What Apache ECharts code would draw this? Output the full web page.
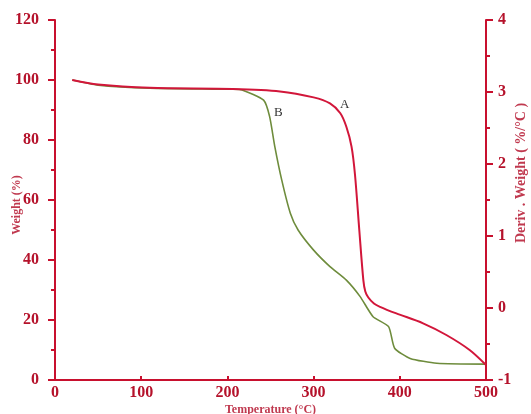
<!DOCTYPE html>
<html><head><meta charset="utf-8">
<script src="https://cdn.jsdelivr.net/npm/echarts@6/dist/echarts.min.js"></script>
<style>html,body{margin:0;padding:0;background:#fff}#c{width:531px;height:414px}</style>
</head><body><div id="c"></div>
<script>
var tempA = [20, 50, 110, 206, 261, 300, 319, 331, 338, 344, 348, 353, 357.7, 360, 363.5, 370, 377, 396, 427, 454, 481, 500];
var weightA = [100, 98.5, 97.4, 97, 96.2, 94.2, 92.2, 88.9, 84.4, 77.8, 68.5, 50, 33.3, 29.5, 27.5, 25.5, 24.4, 22.2, 18.9, 15, 10, 5];
var tempB = [20, 50, 110, 206, 217, 242, 249, 255, 263, 273, 282, 300, 319, 338, 354, 369, 387, 394, 412, 443, 500];
var weightB = [100, 98.3, 97.3, 96.9, 96.7, 93.3, 87.8, 77.8, 66.7, 55.6, 50, 43.3, 37.8, 33.3, 27.8, 21.1, 17.8, 10.6, 7.2, 5.6, 5.3];
var xTicks = [0, 100, 200, 300, 400, 500];
var leftTicks = [0, 20, 40, 60, 80, 100, 120];
var rightTicks = [-1, 0, 1, 2, 3, 4];
var labelA = {name: 'A', x: 336, y: 91.7};
var labelB = {name: 'B', x: 259, y: 89};

function pairs(xs, ys) { return xs.map(function (x, i) { return [x, ys[i]]; }); }

var RED = '#c8102e';
var tickFont = {color: '#b5122b', fontFamily: 'Liberation Serif', fontWeight: 'bold', fontSize: 16};
var nameFont = {color: '#c0394f', fontFamily: 'Liberation Serif', fontWeight: 'bold', fontSize: 12};

var chart = echarts.init(document.getElementById('c'));
chart.setOption({
  animation: false,
  backgroundColor: '#fff',
  grid: {left: 55, right: 45, top: 20, bottom: 34, containLabel: false, outerBoundsMode: 'none'},
  xAxis: {
    type: 'value', min: xTicks[0], max: xTicks[xTicks.length - 1], interval: 100,
    name: 'Temperature (°C)', nameLocation: 'middle', nameGap: 24, nameMoveOverlap: false, nameTextStyle: nameFont,
    axisLine: {lineStyle: {color: RED, width: 2}},
    axisTick: {inside: true, length: 4, lineStyle: {color: RED, width: 2}},
    axisLabel: Object.assign({margin: 5}, tickFont),
    splitLine: {show: false}
  },
  yAxis: [{
    type: 'value', min: leftTicks[0], max: leftTicks[leftTicks.length - 1], interval: 20, position: 'left',
    name: 'Weight (%)', nameLocation: 'middle', nameGap: 32, nameRotate: 90, nameMoveOverlap: false,
    nameTextStyle: Object.assign({}, nameFont, {padding: [0, 10, 0, 0]}),
    axisLine: {show: true, lineStyle: {color: RED, width: 2}},
    axisTick: {show: true, length: 7, lineStyle: {color: RED, width: 2}},
    minorTick: {show: true, splitNumber: 2, length: 4, lineStyle: {color: RED, width: 2}},
    axisLabel: Object.assign({margin: 16}, tickFont),
    splitLine: {show: false}
  }, {
    type: 'value', min: rightTicks[0], max: rightTicks[rightTicks.length - 1], interval: 1, position: 'right',
    name: 'Deriv . Weight ( %/°C )', nameLocation: 'middle', nameGap: 28, nameRotate: 90, nameMoveOverlap: false,
    nameTextStyle: Object.assign({}, nameFont, {fontSize: 14, padding: [0, 0, 0, 54]}),
    axisLine: {show: true, lineStyle: {color: RED, width: 2}},
    axisTick: {show: true, length: 7, lineStyle: {color: RED, width: 2}},
    minorTick: {show: true, splitNumber: 2, length: 4, lineStyle: {color: RED, width: 2}},
    axisLabel: Object.assign({margin: 12}, tickFont),
    splitLine: {show: false}
  }],
  series: [{
    name: 'B', type: 'line', data: pairs(tempB, weightB), smooth: 0.2, showSymbol: false,
    lineStyle: {color: '#6e8c3c', width: 1.6}, z: 2,
    markPoint: {symbol: 'circle', symbolSize: 0, data: [{coord: [labelB.x, labelB.y], value: labelB.name}],
      label: {show: true, formatter: labelB.name, color: '#333', fontFamily: 'Liberation Serif', fontSize: 13}}
  }, {
    name: 'A', type: 'line', data: pairs(tempA, weightA), smooth: 0.3, showSymbol: false,
    lineStyle: {color: '#d2163a', width: 2}, z: 3,
    markPoint: {symbol: 'circle', symbolSize: 0, data: [{coord: [labelA.x, labelA.y], value: labelA.name}],
      label: {show: true, formatter: labelA.name, color: '#333', fontFamily: 'Liberation Serif', fontSize: 13}}
  }]
});
</script></body></html>
